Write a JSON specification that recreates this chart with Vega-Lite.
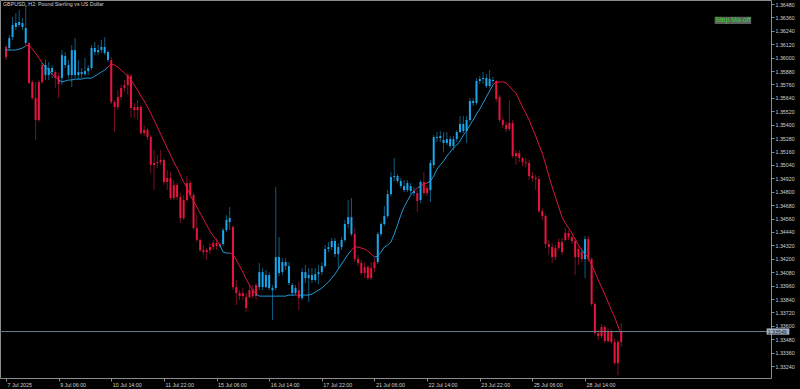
{
"$schema":"https://vega.github.io/schema/vega-lite/v6.json",
"width":771,"height":378,
"autosize":{"type":"none"},
"padding":{"left":0,"top":0,"right":29,"bottom":11},
"background":"#000000",
"config":{"view":{"stroke":"#8c8c8c","strokeWidth":1},"font":"Liberation Sans","axis":{"labelOverlap":false,"labelBound":false,"labelFlush":false}},
"title":{"text":"GBPUSD, H2:  Pound Sterling vs US Dollar","anchor":"start","frame":"group","orient":"top","offset":-7,"dx":3,"fontSize":5.3,"fontWeight":"normal","color":"#d0d0d0","font":"Liberation Sans"},
"resolve":{"axis":{"x":"independent","y":"independent"}},
"datasets":{"bars":[
{"i":0,"o":1.36095,"h":1.36113,"l":1.35979,"c":1.36005,"ma":1.36068,"t":"d"},
{"i":1,"o":1.36086,"h":1.36202,"l":1.36068,"c":1.36175,"ma":1.36068,"t":"u"},
{"i":2,"o":1.36184,"h":1.36363,"l":1.36158,"c":1.36292,"ma":1.36068,"t":"u"},
{"i":3,"o":1.36274,"h":1.36399,"l":1.36247,"c":1.36310,"ma":1.36068,"t":"u"},
{"i":4,"o":1.36292,"h":1.36426,"l":1.36274,"c":1.36319,"ma":1.36077,"t":"u"},
{"i":5,"o":1.36310,"h":1.36354,"l":1.36247,"c":1.36274,"ma":1.36086,"t":"u"},
{"i":6,"o":1.36265,"h":1.36471,"l":1.36113,"c":1.36131,"ma":1.36104,"t":"u"},
{"i":7,"o":1.36131,"h":1.36140,"l":1.35764,"c":1.35773,"ma":1.36113,"t":"d"},
{"i":8,"o":1.35782,"h":1.35800,"l":1.35621,"c":1.35638,"ma":1.36077,"t":"d"},
{"i":9,"o":1.35638,"h":1.35782,"l":1.35263,"c":1.35442,"ma":1.36041,"t":"d"},
{"i":10,"o":1.35442,"h":1.35800,"l":1.35424,"c":1.35782,"ma":1.35996,"t":"d"},
{"i":11,"o":1.35782,"h":1.35952,"l":1.35764,"c":1.35934,"ma":1.35952,"t":"d"},
{"i":12,"o":1.35934,"h":1.35979,"l":1.35800,"c":1.35844,"ma":1.35916,"t":"u"},
{"i":13,"o":1.35844,"h":1.35961,"l":1.35800,"c":1.35907,"ma":1.35889,"t":"u"},
{"i":14,"o":1.35907,"h":1.35934,"l":1.35817,"c":1.35871,"ma":1.35853,"t":"u"},
{"i":15,"o":1.35871,"h":1.35889,"l":1.35728,"c":1.35817,"ma":1.35826,"t":"d"},
{"i":16,"o":1.35835,"h":1.35862,"l":1.35638,"c":1.35764,"ma":1.35800,"t":"d"},
{"i":17,"o":1.35817,"h":1.36068,"l":1.35755,"c":1.36023,"ma":1.35782,"t":"u"},
{"i":18,"o":1.36014,"h":1.36050,"l":1.35907,"c":1.35934,"ma":1.35791,"t":"u"},
{"i":19,"o":1.35934,"h":1.35979,"l":1.35817,"c":1.35844,"ma":1.35800,"t":"u"},
{"i":20,"o":1.35844,"h":1.36113,"l":1.35737,"c":1.36068,"ma":1.35800,"t":"u"},
{"i":21,"o":1.36068,"h":1.36175,"l":1.35817,"c":1.35844,"ma":1.35808,"t":"u"},
{"i":22,"o":1.35844,"h":1.35979,"l":1.35800,"c":1.35871,"ma":1.35808,"t":"u"},
{"i":23,"o":1.35871,"h":1.35907,"l":1.35817,"c":1.35853,"ma":1.35808,"t":"u"},
{"i":24,"o":1.35853,"h":1.35997,"l":1.35835,"c":1.35880,"ma":1.35817,"t":"u"},
{"i":25,"o":1.35880,"h":1.35934,"l":1.35844,"c":1.35907,"ma":1.35817,"t":"u"},
{"i":26,"o":1.35907,"h":1.36113,"l":1.35889,"c":1.36086,"ma":1.35817,"t":"u"},
{"i":27,"o":1.36086,"h":1.36140,"l":1.36023,"c":1.36050,"ma":1.35835,"t":"u"},
{"i":28,"o":1.36050,"h":1.36113,"l":1.36023,"c":1.36068,"ma":1.35853,"t":"u"},
{"i":29,"o":1.36068,"h":1.36158,"l":1.36041,"c":1.36095,"ma":1.35871,"t":"u"},
{"i":30,"o":1.36095,"h":1.36184,"l":1.36023,"c":1.36041,"ma":1.35889,"t":"u"},
{"i":31,"o":1.36050,"h":1.36068,"l":1.35961,"c":1.35979,"ma":1.35916,"t":"u"},
{"i":32,"o":1.35979,"h":1.36005,"l":1.35585,"c":1.35603,"ma":1.35943,"t":"d"},
{"i":33,"o":1.35603,"h":1.35621,"l":1.35334,"c":1.35558,"ma":1.35934,"t":"d"},
{"i":34,"o":1.35558,"h":1.35710,"l":1.35531,"c":1.35648,"ma":1.35916,"t":"d"},
{"i":35,"o":1.35648,"h":1.35755,"l":1.35621,"c":1.35728,"ma":1.35889,"t":"d"},
{"i":36,"o":1.35728,"h":1.35800,"l":1.35693,"c":1.35755,"ma":1.35862,"t":"d"},
{"i":37,"o":1.35755,"h":1.35862,"l":1.35666,"c":1.35844,"ma":1.35835,"t":"d"},
{"i":38,"o":1.35835,"h":1.35853,"l":1.35459,"c":1.35549,"ma":1.35800,"t":"d"},
{"i":39,"o":1.35558,"h":1.35594,"l":1.35459,"c":1.35531,"ma":1.35755,"t":"d"},
{"i":40,"o":1.35531,"h":1.35621,"l":1.35442,"c":1.35558,"ma":1.35710,"t":"d"},
{"i":41,"o":1.35558,"h":1.35576,"l":1.35307,"c":1.35325,"ma":1.35657,"t":"d"},
{"i":42,"o":1.35325,"h":1.35397,"l":1.35298,"c":1.35352,"ma":1.35612,"t":"d"},
{"i":43,"o":1.35352,"h":1.35370,"l":1.35263,"c":1.35289,"ma":1.35558,"t":"d"},
{"i":44,"o":1.35289,"h":1.35307,"l":1.34967,"c":1.35039,"ma":1.35504,"t":"d"},
{"i":45,"o":1.35039,"h":1.35173,"l":1.34815,"c":1.35057,"ma":1.35442,"t":"d"},
{"i":46,"o":1.35057,"h":1.35128,"l":1.35012,"c":1.35066,"ma":1.35379,"t":"d"},
{"i":47,"o":1.35066,"h":1.35173,"l":1.35039,"c":1.35084,"ma":1.35316,"t":"d"},
{"i":48,"o":1.35084,"h":1.35101,"l":1.34860,"c":1.34887,"ma":1.35254,"t":"d"},
{"i":49,"o":1.34887,"h":1.34994,"l":1.34815,"c":1.34922,"ma":1.35191,"t":"d"},
{"i":50,"o":1.34922,"h":1.34976,"l":1.34726,"c":1.34743,"ma":1.35128,"t":"d"},
{"i":51,"o":1.34743,"h":1.34905,"l":1.34726,"c":1.34860,"ma":1.35066,"t":"d"},
{"i":52,"o":1.34860,"h":1.34878,"l":1.34726,"c":1.34752,"ma":1.35012,"t":"d"},
{"i":53,"o":1.34752,"h":1.34788,"l":1.34520,"c":1.34564,"ma":1.34949,"t":"d"},
{"i":54,"o":1.34564,"h":1.34770,"l":1.34547,"c":1.34726,"ma":1.34887,"t":"d"},
{"i":55,"o":1.34726,"h":1.34940,"l":1.34708,"c":1.34878,"ma":1.34833,"t":"d"},
{"i":56,"o":1.34878,"h":1.34905,"l":1.34743,"c":1.34770,"ma":1.34770,"t":"d"},
{"i":57,"o":1.34770,"h":1.34788,"l":1.34457,"c":1.34475,"ma":1.34717,"t":"d"},
{"i":58,"o":1.34475,"h":1.34591,"l":1.34350,"c":1.34368,"ma":1.34663,"t":"d"},
{"i":59,"o":1.34368,"h":1.34385,"l":1.34260,"c":1.34278,"ma":1.34609,"t":"d"},
{"i":60,"o":1.34278,"h":1.34323,"l":1.34233,"c":1.34260,"ma":1.34555,"t":"d"},
{"i":61,"o":1.34260,"h":1.34296,"l":1.34189,"c":1.34278,"ma":1.34502,"t":"d"},
{"i":62,"o":1.34278,"h":1.34341,"l":1.34242,"c":1.34305,"ma":1.34448,"t":"d"},
{"i":63,"o":1.34305,"h":1.34368,"l":1.34278,"c":1.34341,"ma":1.34403,"t":"d"},
{"i":64,"o":1.34341,"h":1.34385,"l":1.34278,"c":1.34314,"ma":1.34368,"t":"d"},
{"i":65,"o":1.34314,"h":1.34350,"l":1.34296,"c":1.34332,"ma":1.34323,"t":"d"},
{"i":66,"o":1.34332,"h":1.34475,"l":1.34314,"c":1.34457,"ma":1.34260,"t":"u"},
{"i":67,"o":1.34457,"h":1.34591,"l":1.34439,"c":1.34547,"ma":1.34251,"t":"u"},
{"i":68,"o":1.34529,"h":1.34663,"l":1.34457,"c":1.34564,"ma":1.34251,"t":"u"},
{"i":69,"o":1.34484,"h":1.34502,"l":1.33920,"c":1.33947,"ma":1.34242,"t":"d"},
{"i":70,"o":1.33947,"h":1.34010,"l":1.33786,"c":1.33893,"ma":1.34189,"t":"d"},
{"i":71,"o":1.33893,"h":1.33920,"l":1.33831,"c":1.33866,"ma":1.34135,"t":"d"},
{"i":72,"o":1.33866,"h":1.33938,"l":1.33831,"c":1.33893,"ma":1.34081,"t":"d"},
{"i":73,"o":1.33857,"h":1.33893,"l":1.33723,"c":1.33759,"ma":1.34018,"t":"d"},
{"i":74,"o":1.33857,"h":1.33965,"l":1.33848,"c":1.33920,"ma":1.33965,"t":"d"},
{"i":75,"o":1.33866,"h":1.33965,"l":1.33848,"c":1.33929,"ma":1.33920,"t":"d"},
{"i":76,"o":1.33866,"h":1.33983,"l":1.33831,"c":1.33965,"ma":1.33884,"t":"d"},
{"i":77,"o":1.33947,"h":1.34162,"l":1.33920,"c":1.34081,"ma":1.33866,"t":"u"},
{"i":78,"o":1.34081,"h":1.34117,"l":1.33920,"c":1.33947,"ma":1.33866,"t":"u"},
{"i":79,"o":1.33947,"h":1.34099,"l":1.33938,"c":1.34054,"ma":1.33866,"t":"u"},
{"i":80,"o":1.34054,"h":1.34081,"l":1.33920,"c":1.33938,"ma":1.33866,"t":"u"},
{"i":81,"o":1.33938,"h":1.33965,"l":1.33652,"c":1.33920,"ma":1.33866,"t":"u"},
{"i":82,"o":1.33938,"h":1.34842,"l":1.33920,"c":1.34215,"ma":1.33866,"t":"u"},
{"i":83,"o":1.34215,"h":1.34394,"l":1.34045,"c":1.34072,"ma":1.33866,"t":"u"},
{"i":84,"o":1.34081,"h":1.34206,"l":1.34054,"c":1.34171,"ma":1.33866,"t":"u"},
{"i":85,"o":1.34171,"h":1.34206,"l":1.34099,"c":1.34135,"ma":1.33866,"t":"u"},
{"i":86,"o":1.34135,"h":1.34171,"l":1.33965,"c":1.33983,"ma":1.33875,"t":"u"},
{"i":87,"o":1.33965,"h":1.33983,"l":1.33866,"c":1.33893,"ma":1.33875,"t":"u"},
{"i":88,"o":1.33893,"h":1.33965,"l":1.33875,"c":1.33938,"ma":1.33875,"t":"u"},
{"i":89,"o":1.33920,"h":1.33992,"l":1.33741,"c":1.33848,"ma":1.33875,"t":"d"},
{"i":90,"o":1.33848,"h":1.34117,"l":1.33831,"c":1.34081,"ma":1.33875,"t":"u"},
{"i":91,"o":1.34081,"h":1.34144,"l":1.33983,"c":1.34027,"ma":1.33875,"t":"u"},
{"i":92,"o":1.34027,"h":1.34117,"l":1.33813,"c":1.34054,"ma":1.33875,"t":"u"},
{"i":93,"o":1.34054,"h":1.34117,"l":1.33983,"c":1.34010,"ma":1.33884,"t":"u"},
{"i":94,"o":1.34010,"h":1.34117,"l":1.33992,"c":1.34063,"ma":1.33902,"t":"u"},
{"i":95,"o":1.34063,"h":1.34144,"l":1.33974,"c":1.34081,"ma":1.33920,"t":"u"},
{"i":96,"o":1.34081,"h":1.34171,"l":1.34054,"c":1.34135,"ma":1.33938,"t":"u"},
{"i":97,"o":1.34135,"h":1.34323,"l":1.34117,"c":1.34287,"ma":1.33965,"t":"u"},
{"i":98,"o":1.34287,"h":1.34350,"l":1.34260,"c":1.34305,"ma":1.33992,"t":"u"},
{"i":99,"o":1.34305,"h":1.34385,"l":1.34278,"c":1.34359,"ma":1.34027,"t":"u"},
{"i":100,"o":1.34359,"h":1.34385,"l":1.34215,"c":1.34242,"ma":1.34063,"t":"u"},
{"i":101,"o":1.34242,"h":1.34341,"l":1.34117,"c":1.34305,"ma":1.34108,"t":"u"},
{"i":102,"o":1.34305,"h":1.34394,"l":1.34278,"c":1.34368,"ma":1.34153,"t":"u"},
{"i":103,"o":1.34368,"h":1.34547,"l":1.34350,"c":1.34511,"ma":1.34197,"t":"u"},
{"i":104,"o":1.34511,"h":1.34726,"l":1.34475,"c":1.34573,"ma":1.34242,"t":"u"},
{"i":105,"o":1.34573,"h":1.34743,"l":1.34403,"c":1.34421,"ma":1.34278,"t":"u"},
{"i":106,"o":1.34421,"h":1.34475,"l":1.34171,"c":1.34197,"ma":1.34305,"t":"d"},
{"i":107,"o":1.34197,"h":1.34233,"l":1.34135,"c":1.34162,"ma":1.34305,"t":"d"},
{"i":108,"o":1.34162,"h":1.34189,"l":1.34054,"c":1.34072,"ma":1.34296,"t":"d"},
{"i":109,"o":1.34072,"h":1.34171,"l":1.34027,"c":1.34126,"ma":1.34287,"t":"d"},
{"i":110,"o":1.34126,"h":1.34144,"l":1.34010,"c":1.34027,"ma":1.34269,"t":"d"},
{"i":111,"o":1.34027,"h":1.34171,"l":1.34010,"c":1.34117,"ma":1.34242,"t":"d"},
{"i":112,"o":1.34117,"h":1.34206,"l":1.34081,"c":1.34171,"ma":1.34215,"t":"d"},
{"i":113,"o":1.34171,"h":1.34439,"l":1.34153,"c":1.34421,"ma":1.34224,"t":"u"},
{"i":114,"o":1.34421,"h":1.34529,"l":1.34403,"c":1.34511,"ma":1.34260,"t":"u"},
{"i":115,"o":1.34511,"h":1.34672,"l":1.34493,"c":1.34582,"ma":1.34305,"t":"u"},
{"i":116,"o":1.34582,"h":1.34815,"l":1.34564,"c":1.34779,"ma":1.34323,"t":"u"},
{"i":117,"o":1.34779,"h":1.34976,"l":1.34761,"c":1.34931,"ma":1.34350,"t":"u"},
{"i":118,"o":1.34931,"h":1.35101,"l":1.34896,"c":1.34940,"ma":1.34421,"t":"u"},
{"i":119,"o":1.34940,"h":1.34958,"l":1.34878,"c":1.34896,"ma":1.34502,"t":"u"},
{"i":120,"o":1.34896,"h":1.34922,"l":1.34833,"c":1.34851,"ma":1.34591,"t":"u"},
{"i":121,"o":1.34851,"h":1.34905,"l":1.34797,"c":1.34815,"ma":1.34663,"t":"u"},
{"i":122,"o":1.34815,"h":1.34905,"l":1.34797,"c":1.34878,"ma":1.34717,"t":"u"},
{"i":123,"o":1.34851,"h":1.34878,"l":1.34779,"c":1.34806,"ma":1.34770,"t":"u"},
{"i":124,"o":1.34806,"h":1.34842,"l":1.34761,"c":1.34788,"ma":1.34806,"t":"u"},
{"i":125,"o":1.34788,"h":1.34815,"l":1.34618,"c":1.34717,"ma":1.34833,"t":"d"},
{"i":126,"o":1.34726,"h":1.34905,"l":1.34699,"c":1.34887,"ma":1.34851,"t":"u"},
{"i":127,"o":1.34887,"h":1.34976,"l":1.34770,"c":1.34788,"ma":1.34869,"t":"d"},
{"i":128,"o":1.34788,"h":1.34860,"l":1.34761,"c":1.34833,"ma":1.34878,"t":"d"},
{"i":129,"o":1.34815,"h":1.35084,"l":1.34708,"c":1.35057,"ma":1.34896,"t":"u"},
{"i":130,"o":1.35039,"h":1.35307,"l":1.35012,"c":1.35289,"ma":1.34940,"t":"u"},
{"i":131,"o":1.35289,"h":1.35334,"l":1.35245,"c":1.35280,"ma":1.35003,"t":"u"},
{"i":132,"o":1.35280,"h":1.35343,"l":1.35245,"c":1.35298,"ma":1.35039,"t":"u"},
{"i":133,"o":1.35263,"h":1.35334,"l":1.35155,"c":1.35236,"ma":1.35075,"t":"u"},
{"i":134,"o":1.35236,"h":1.35334,"l":1.35218,"c":1.35271,"ma":1.35119,"t":"u"},
{"i":135,"o":1.35271,"h":1.35298,"l":1.35191,"c":1.35209,"ma":1.35155,"t":"u"},
{"i":136,"o":1.35209,"h":1.35298,"l":1.35173,"c":1.35271,"ma":1.35191,"t":"u"},
{"i":137,"o":1.35271,"h":1.35352,"l":1.35245,"c":1.35334,"ma":1.35218,"t":"u"},
{"i":138,"o":1.35334,"h":1.35477,"l":1.35325,"c":1.35406,"ma":1.35254,"t":"u"},
{"i":139,"o":1.35406,"h":1.35477,"l":1.35325,"c":1.35343,"ma":1.35307,"t":"u"},
{"i":140,"o":1.35343,"h":1.35477,"l":1.35236,"c":1.35442,"ma":1.35343,"t":"u"},
{"i":141,"o":1.35442,"h":1.35639,"l":1.35424,"c":1.35612,"ma":1.35397,"t":"u"},
{"i":142,"o":1.35612,"h":1.35639,"l":1.35567,"c":1.35594,"ma":1.35442,"t":"u"},
{"i":143,"o":1.35594,"h":1.35818,"l":1.35576,"c":1.35791,"ma":1.35495,"t":"u"},
{"i":144,"o":1.35791,"h":1.35836,"l":1.35764,"c":1.35809,"ma":1.35540,"t":"u"},
{"i":145,"o":1.35809,"h":1.35872,"l":1.35764,"c":1.35818,"ma":1.35594,"t":"u"},
{"i":146,"o":1.35818,"h":1.35854,"l":1.35728,"c":1.35746,"ma":1.35648,"t":"u"},
{"i":147,"o":1.35746,"h":1.35889,"l":1.35728,"c":1.35809,"ma":1.35702,"t":"u"},
{"i":148,"o":1.35800,"h":1.35827,"l":1.35764,"c":1.35791,"ma":1.35755,"t":"u"},
{"i":149,"o":1.35791,"h":1.35800,"l":1.35603,"c":1.35630,"ma":1.35782,"t":"d"},
{"i":150,"o":1.35648,"h":1.35666,"l":1.35424,"c":1.35442,"ma":1.35782,"t":"d"},
{"i":151,"o":1.35442,"h":1.35468,"l":1.35370,"c":1.35397,"ma":1.35782,"t":"d"},
{"i":152,"o":1.35397,"h":1.35424,"l":1.35334,"c":1.35361,"ma":1.35773,"t":"d"},
{"i":153,"o":1.35361,"h":1.35621,"l":1.35343,"c":1.35415,"ma":1.35746,"t":"d"},
{"i":154,"o":1.35415,"h":1.35442,"l":1.35101,"c":1.35119,"ma":1.35710,"t":"d"},
{"i":155,"o":1.35119,"h":1.35173,"l":1.35039,"c":1.35146,"ma":1.35684,"t":"d"},
{"i":156,"o":1.35146,"h":1.35173,"l":1.35066,"c":1.35101,"ma":1.35621,"t":"d"},
{"i":157,"o":1.35101,"h":1.35110,"l":1.35030,"c":1.35066,"ma":1.35558,"t":"d"},
{"i":158,"o":1.35066,"h":1.35101,"l":1.35021,"c":1.35057,"ma":1.35504,"t":"d"},
{"i":159,"o":1.35057,"h":1.35084,"l":1.34905,"c":1.34940,"ma":1.35442,"t":"d"},
{"i":160,"o":1.34940,"h":1.34976,"l":1.34887,"c":1.34922,"ma":1.35370,"t":"d"},
{"i":161,"o":1.34922,"h":1.34949,"l":1.34815,"c":1.34913,"ma":1.35298,"t":"d"},
{"i":162,"o":1.34913,"h":1.34940,"l":1.34609,"c":1.34627,"ma":1.35218,"t":"d"},
{"i":163,"o":1.34627,"h":1.34654,"l":1.34547,"c":1.34582,"ma":1.35146,"t":"d"},
{"i":164,"o":1.34582,"h":1.34600,"l":1.34296,"c":1.34332,"ma":1.35048,"t":"d"},
{"i":165,"o":1.34332,"h":1.34368,"l":1.34233,"c":1.34305,"ma":1.34940,"t":"d"},
{"i":166,"o":1.34305,"h":1.34341,"l":1.34162,"c":1.34215,"ma":1.34842,"t":"d"},
{"i":167,"o":1.34215,"h":1.34323,"l":1.34189,"c":1.34296,"ma":1.34752,"t":"d"},
{"i":168,"o":1.34296,"h":1.34385,"l":1.34278,"c":1.34350,"ma":1.34663,"t":"d"},
{"i":169,"o":1.34350,"h":1.34385,"l":1.34233,"c":1.34260,"ma":1.34573,"t":"d"},
{"i":170,"o":1.34368,"h":1.34475,"l":1.34350,"c":1.34430,"ma":1.34520,"t":"d"},
{"i":171,"o":1.34430,"h":1.34457,"l":1.34368,"c":1.34394,"ma":1.34475,"t":"d"},
{"i":172,"o":1.34394,"h":1.34412,"l":1.34332,"c":1.34359,"ma":1.34430,"t":"d"},
{"i":173,"o":1.34359,"h":1.34385,"l":1.34054,"c":1.34215,"ma":1.34376,"t":"d"},
{"i":174,"o":1.34215,"h":1.34314,"l":1.34144,"c":1.34287,"ma":1.34323,"t":"d"},
{"i":175,"o":1.34260,"h":1.34296,"l":1.34171,"c":1.34197,"ma":1.34278,"t":"d"},
{"i":176,"o":1.34197,"h":1.34403,"l":1.34027,"c":1.34376,"ma":1.34242,"t":"u"},
{"i":177,"o":1.34376,"h":1.34403,"l":1.34171,"c":1.34197,"ma":1.34215,"t":"d"},
{"i":178,"o":1.34197,"h":1.34215,"l":1.33777,"c":1.33795,"ma":1.34144,"t":"d"},
{"i":179,"o":1.33795,"h":1.33813,"l":1.33517,"c":1.33535,"ma":1.34081,"t":"d"},
{"i":180,"o":1.33535,"h":1.33562,"l":1.33473,"c":1.33508,"ma":1.34010,"t":"d"},
{"i":181,"o":1.33508,"h":1.33616,"l":1.33490,"c":1.33589,"ma":1.33947,"t":"d"},
{"i":182,"o":1.33589,"h":1.33607,"l":1.33446,"c":1.33464,"ma":1.33884,"t":"d"},
{"i":183,"o":1.33464,"h":1.33580,"l":1.33446,"c":1.33553,"ma":1.33813,"t":"d"},
{"i":184,"o":1.33553,"h":1.33571,"l":1.33437,"c":1.33455,"ma":1.33741,"t":"d"},
{"i":185,"o":1.33455,"h":1.33490,"l":1.33249,"c":1.33267,"ma":1.33678,"t":"d"},
{"i":186,"o":1.33267,"h":1.33473,"l":1.33159,"c":1.33455,"ma":1.33598,"t":"d"},
{"i":187,"o":1.33455,"h":1.33625,"l":1.33410,"c":1.33549,"ma":1.33526,"t":"d"}
]},
"layer":[
{"data":{"name":"bars"},
 "mark":{"type":"rule","strokeWidth":1},
 "encoding":{
  "x":{"field":"i","type":"quantitative","scale":{"domain":[-0.3,231],"nice":false,"zero":false},
       "axis":{"orient":"bottom","values":[0,16,32,48,64,80,96,112,128,144,160,176],
        "labelExpr":"['7 Jul 2025','9 Jul 06:00','10 Jul 14:00','11 Jul 22:00','15 Jul 06:00','16 Jul 14:00','17 Jul 22:00','21 Jul 06:00','22 Jul 14:00','23 Jul 22:00','25 Jul 06:00','28 Jul 14:00'][round(datum.value/16)]",
        "title":null,"domain":false,"grid":false,"tickSize":3,"tickColor":"#8c8c8c","labelColor":"#d0d0d0","labelFontSize":5.3,"labelFont":"Liberation Sans","labelAlign":"left","labelBaseline":"top","labelPadding":1,"labelOffset":1,"labelOverlap":false,"labelBound":false,"labelFlush":false}},
  "y":{"field":"h","type":"quantitative","scale":{"domain":[1.331332,1.365158],"nice":false,"zero":false},
       "axis":{"orient":"right","values":[1.3324,1.3336,1.3348,1.336,1.3372,1.3384,1.3396,1.3408,1.342,1.3432,1.3444,1.3456,1.3468,1.348,1.3492,1.3504,1.3516,1.3528,1.354,1.3552,1.3564,1.3576,1.3588,1.36,1.3612,1.3624,1.3636,1.3648],
        "format":".5f","title":null,"domain":false,"grid":false,"tickSize":3,"tickColor":"#8c8c8c","labelColor":"#d0d0d0","labelFontSize":5.3,"labelFont":"Liberation Sans","labelAlign":"left","labelBaseline":"middle","labelPadding":1,"labelOverlap":false,"labelBound":false,"labelFlush":false}},
  "y2":{"field":"l"},
  "color":{"condition":{"test":"datum.t=='u'","value":"#0e5c80"},"value":"#7a1024"}
 }},
{"data":{"name":"bars"},
 "mark":{"type":"bar","width":2},
 "encoding":{
  "x":{"field":"i","type":"quantitative","axis":null},
  "y":{"field":"o","type":"quantitative","axis":null},
  "y2":{"field":"c"},
  "color":{"condition":{"test":"datum.t=='u'","value":"#1ca6ec"},"value":"#e6143e"}
 }},
{"data":{"name":"bars"},
 "transform":[
  {"window":[{"op":"lead","field":"ma","as":"ma2"},{"op":"lead","field":"i","as":"i2"},{"op":"lead","field":"t","as":"t2"}],"sort":[{"field":"i","order":"ascending"}]},
  {"filter":"datum.i2 != null"}
 ],
 "mark":{"type":"rule","strokeWidth":1},
 "encoding":{
  "x":{"field":"i","type":"quantitative","axis":null},
  "x2":{"field":"i2"},
  "y":{"field":"ma","type":"quantitative","axis":null},
  "y2":{"field":"ma2"},
  "color":{"condition":{"test":"datum.t2=='u'","value":"#1e9ad8"},"value":"#d8163e"}
 }},
{"data":{"values":[{"p":1.33549,"lbl":"1.33549"}]},
 "mark":{"type":"rule","color":"#6c7a8a","strokeWidth":1},
 "encoding":{"y":{"field":"p","type":"quantitative","axis":null}}},
{"data":{"values":[{"p":1.33549,"lbl":"1.33549"}]},
 "mark":{"type":"rect","color":"#9fb1c6"},
 "encoding":{"x":{"datum":231.2,"axis":null},"x2":{"datum":238.1},"y":{"datum":1.33577,"axis":null},"y2":{"datum":1.33521}}},
{"data":{"values":[{"p":1.33549,"lbl":"1.33549"}]},
 "mark":{"type":"text","align":"left","baseline":"middle","fontSize":5.3,"font":"Liberation Sans","color":"#10182a","dx":1},
 "encoding":{"x":{"datum":231.2,"axis":null},"y":{"field":"p","type":"quantitative","axis":null},"text":{"field":"lbl"}}},
{"data":{"values":[{"name":"Step Ma-off"}]},
 "mark":{"type":"rect","color":"#5e5e5e"},
 "encoding":{"x":{"datum":215.4,"axis":null},"x2":{"datum":226.5},"y":{"datum":1.36366,"axis":null},"y2":{"datum":1.36301}}},
{"data":{"values":[{"name":"Step Ma-off"}]},
 "mark":{"type":"text","align":"center","baseline":"middle","fontSize":6.8,"font":"Liberation Sans","color":"#2ed52e"},
 "encoding":{"x":{"datum":220.95,"axis":null},"y":{"datum":1.36334,"axis":null},"text":{"field":"name"}}}
]
}
